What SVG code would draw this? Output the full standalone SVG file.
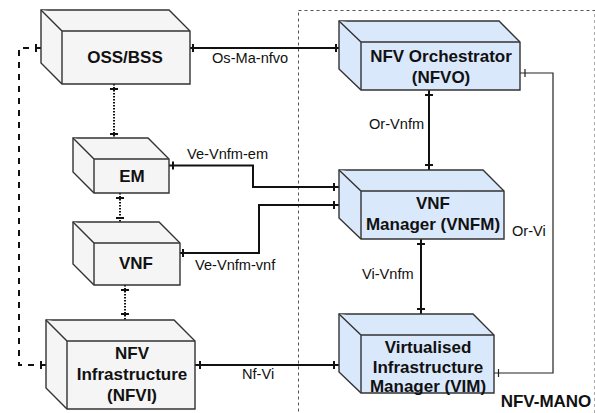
<svg xmlns="http://www.w3.org/2000/svg" width="595" height="413" viewBox="0 0 595 413">
<style>
.grey{fill:#f5f5f5;stroke:#333;stroke-width:1.4}
.blue{fill:#dae8fc;stroke:#333;stroke-width:1.4}
.t{font-family:"Liberation Sans",Arial,sans-serif;font-weight:bold;font-size:17px;fill:#111;text-anchor:middle}
.lbl{font-family:"Liberation Sans",Arial,sans-serif;font-size:14.6px;fill:#111}
.c{fill:none;stroke:#111;stroke-width:2}
.thin{fill:none;stroke:#222;stroke-width:1.2}
.dot{fill:none;stroke:#111;stroke-width:2;stroke-dasharray:1.5 1.5}
.dash{fill:none;stroke:#111;stroke-width:2;stroke-dasharray:6 6}
.tk{stroke:#111;stroke-width:2}
</style>
<rect x="298.5" y="10.5" width="296.5" height="420" fill="none" stroke="#555" stroke-width="1" stroke-dasharray="3 3"/>
<g id="connectors">
<path class="dash" d="M41 48H19V365H46"/>
<path class="tk" d="M36 44V52M41 361V369"/>
<path class="c" d="M190 48H339"/>
<path class="tk" d="M193 44V52M336 44V52"/>
<path class="dot" d="M114 84V138"/>
<path class="tk" d="M110 89H118M110 134H118"/>
<path class="dot" d="M120 193V222"/>
<path class="tk" d="M116 198H124M116 218H124"/>
<path class="dot" d="M125 285V320"/>
<path class="tk" d="M121 290H129M121 314H129"/>
<path class="c" d="M429 90V170"/>
<path class="tk" d="M425 95H433M425 165H433"/>
<path class="c" d="M421 239V314"/>
<path class="tk" d="M417 244H425M417 309H425"/>
<path class="thin" d="M520 73H553V373H494"/>
<path class="thin" d="M525 69V77M498.5 369V377"/>
<path class="c" d="M169 165.5H253V187H339"/>
<path class="tk" d="M173 161.5V169.5M334 183V191"/>
<path class="c" d="M180 253H259V205H339"/>
<path class="tk" d="M183 249V257M334 201V209"/>
<path class="c" d="M195 365H339"/>
<path class="tk" d="M200 361V369M334 361V369"/>
<text class="lbl" x="212" y="63">Os-Ma-nfvo</text>
<text class="lbl" x="369" y="129">Or-Vnfm</text>
<text class="lbl" x="187" y="159">Ve-Vnfm-em</text>
<text class="lbl" x="195" y="270">Ve-Vnfm-vnf</text>
<text class="lbl" x="362" y="279">Vi-Vnfm</text>
<text class="lbl" x="512" y="236">Or-Vi</text>
<text class="lbl" x="242" y="379">Nf-Vi</text>
</g>
<g id="oss">
<path class="grey" d="M41 10H169L190 31V84H62L41 63Z"/>
<path class="grey" d="M41 10L62 31H190M62 31V84"/>
<text class="t" x="125" y="63">OSS/BSS</text>
</g>
<g id="em">
<path class="grey" d="M73 138H148L169 159V193H94L73 172Z"/>
<path class="grey" d="M73 138L94 159H169M94 159V193"/>
<text class="t" x="132" y="182">EM</text>
</g>
<g id="vnf">
<path class="grey" d="M73 222H159L180 243V285H94L73 264Z"/>
<path class="grey" d="M73 222L94 243H180M94 243V285"/>
<text class="t" x="136" y="269">VNF</text>
</g>
<g id="nfvi">
<path class="grey" d="M46 320H174L195 341V409H67L46 388Z"/>
<path class="grey" d="M46 320L67 341H195M67 341V409"/>
<text class="t" x="132" y="359">NFV</text>
<text class="t" x="132" y="380">Infrastructure</text>
<text class="t" x="132" y="401">(NFVI)</text>
</g>
<g id="nfvo">
<path class="blue" d="M339 21H499L520 42V90H361L339 69Z"/>
<path class="blue" d="M339 21L361 42H520M361 42V90"/>
<text class="t" x="441" y="62">NFV Orchestrator</text>
<text class="t" x="441" y="83">(NFVO)</text>
</g>
<g id="vnfm">
<path class="blue" d="M339 170H483L504 191V239H361L339 218Z"/>
<path class="blue" d="M339 170L361 191H504M361 191V239"/>
<text class="t" x="433" y="209">VNF</text>
<text class="t" x="433" y="230">Manager (VNFM)</text>
</g>
<g id="vim">
<path class="blue" d="M339 314H473L494 335V393H361L339 372Z"/>
<path class="blue" d="M339 314L361 335H494M361 335V393"/>
<text class="t" x="428" y="353">Virtualised</text>
<text class="t" x="428" y="373">Infrastructure</text>
<text class="t" x="428" y="392">Manager (VIM)</text>
</g>
<text class="t" x="546" y="407">NFV-MANO</text>
</svg>
